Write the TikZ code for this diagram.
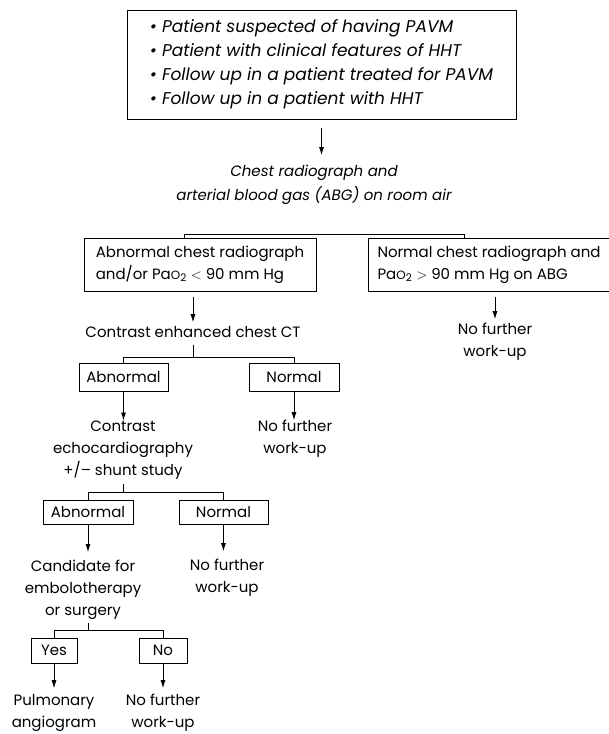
\documentclass[tikz,border=0pt]{standalone}
\usepackage{fontspec}
\setmainfont{Poppins}
\usetikzlibrary{arrows.meta}

\newcommand{\paotwo}{Pa{\fontsize{12}{12}\selectfont O}\textsubscript{2}}

\begin{document}
\begin{tikzpicture}[x=1pt, y=-1pt, font=\fontsize{15}{22}\selectfont,
  box/.style={draw, line width=0.8pt, inner sep=0pt},
  plain/.style={inner sep=0pt, align=center},
  arr/.style={-{Latex[length=8pt,width=5pt]}, line width=0.8pt},
  bar/.style={line width=0.8pt}]
  \useasboundingbox (0,0) rectangle (609,734);
  % who is sent on
  \node[box, minimum width=389pt, minimum height=109pt, align=left, font=\itshape\fontsize{17}{24}\selectfont] (who) at (321.5,64.5)
    {\textbullet\ Patient suspected of having PAVM\\
     \textbullet\ Patient with clinical features of HHT\\
     \textbullet\ Follow up in a patient treated for PAVM\\
     \textbullet\ Follow up in a patient with HHT};
  \node[plain, font=\itshape\fontsize{15}{24}\selectfont] (xray) at (314,185) {Chest radiograph and\\arterial blood gas (ABG) on room air};
  \draw[arr, shorten <=9pt, shorten >=10pt] (who.south) -- (who.south |- xray.north);
  % first split
  \node[box, minimum width=232pt, minimum height=53pt, align=left] (abn) at (200,264.5) {Abnormal chest radiograph\\and/or \paotwo{} $<$ 90 mm Hg};
  \node[box, minimum width=242pt, minimum height=53pt, align=left] (nrm) at (489,264.5) {Normal chest radiograph and\\\paotwo{} $>$ 90 mm Hg on ABG};
  \draw[bar] ([xshift=-16pt]abn.north) -- ++(0,-3) -| ([xshift=-25pt]nrm.north);
  \node[plain] (ct) at (193,332) {Contrast enhanced chest CT};
  \node[plain] (nrmend) at (495,342) {No further\\work-up};
  \draw[arr, shorten <=6pt, shorten >=4pt] (abn.south -| ct.north) -- (ct.north);
  \draw[arr, shorten <=6pt, shorten >=4pt] (nrm.south -| nrmend.north) -- (nrmend.north);
  % CT result
  \node[box, minimum width=89pt, minimum height=28pt] (ctab) at (123.5,377) {Abnormal};
  \node[box, minimum width=90pt, minimum height=28pt] (ctno) at (294,377) {Normal};
  \draw[bar] (ctab.north) -- ++(0,-5) coordinate (ctbar) -| (ctno.north);
  \draw[bar] ([yshift=-7pt]ct.south) -- (ct.south |- ctbar);
  \node[plain] (echo) at (123,450) {Contrast\\echocardiography\\+/-- shunt study};
  \node[plain] (ctnoend) at (295,439) {No further\\work-up};
  \draw[arr] (ctab.south) -- (ctab.south |- echo.north);
  \draw[arr] (ctno.south) -- (ctno.south |- ctnoend.north);
  % echo result
  \node[box, minimum width=90pt, minimum height=24pt] (echab) at (88,512) {Abnormal};
  \node[box, minimum width=89pt, minimum height=24pt] (echno) at (223.5,512) {Normal};
  \draw[bar] (echab.north) -- ++(0,-7) coordinate (echbar) -| (echno.north);
  \draw[bar] ([yshift=-5pt]echo.south) -- (echo.south |- echbar);
  \node[plain] (cand) at (83,590) {Candidate for\\embolotherapy\\or surgery};
  \node[plain] (echnoend) at (227,578) {No further\\work-up};
  \draw[arr, shorten >=8pt] (echab.south) -- (echab.south |- cand.north);
  \draw[arr, shorten >=8pt] (echno.south) -- (echno.south |- echnoend.north);
  % candidate
  \node[box, minimum width=46pt, minimum height=25pt] (yes) at (54,650.5) {Yes};
  \node[box, minimum width=48pt, minimum height=25pt] (no) at (163,650.5) {No};
  \draw[bar] (yes.north) -- ++(0,-7) coordinate (candbar) -| (no.north);
  \draw[bar] ([yshift=-3pt]cand.south -| echab.south) -- (echab.south |- candbar);
  \node[plain] (pulm) at (54,713) {Pulmonary\\angiogram};
  \node[plain] (noend) at (163,713) {No further\\work-up};
  \draw[arr, shorten >=6pt] (yes.south) -- (yes.south |- pulm.north);
  \draw[arr, shorten >=6pt] (no.south) -- (no.south |- noend.north);
\end{tikzpicture}
\end{document}
